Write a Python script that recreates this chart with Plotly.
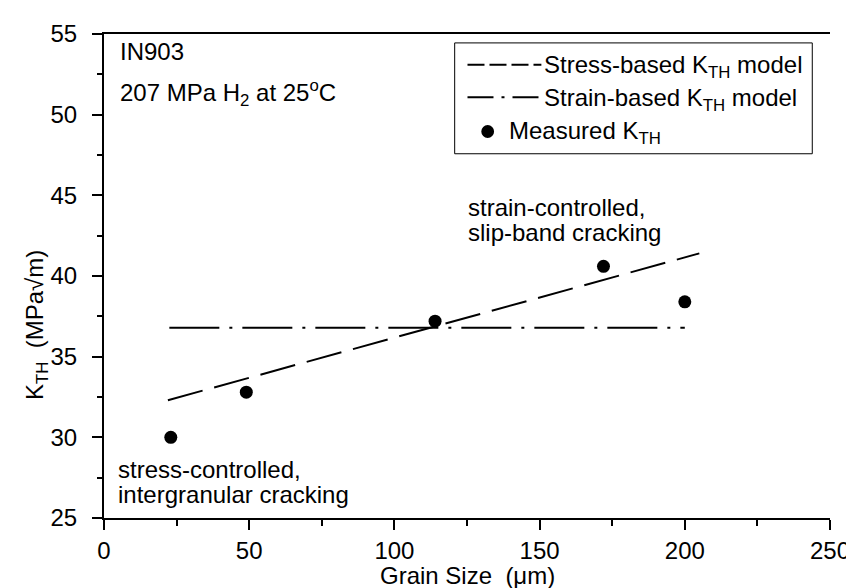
import plotly.graph_objects as go

# ---- data ----
grain_size = [23, 49, 114, 172, 200]
k_th_measured = [30.0, 32.8, 37.2, 40.6, 38.4]
stress_model_x = [22, 205]
stress_model_y = [32.3, 41.4]
strain_model_x = [22.5, 200]
strain_model_y = [36.8, 36.8]
x_ticks = [0, 50, 100, 150, 200, 250]
y_ticks = [25, 30, 35, 40, 45, 50, 55]

W, H = 854, 588
L, R, T, B = 96, 833, 21, 510
FONT = "Liberation Sans, Arial, sans-serif"


def px(x):
    return (x - L) / (R - L)


def py(y):
    return (B - y) / (B - T)


fig = go.Figure()
fig.add_trace(go.Scatter(x=stress_model_x, y=stress_model_y, mode="lines",
                         line=dict(color="black", width=2, dash="36px,12px"),
                         showlegend=False))
fig.add_trace(go.Scatter(x=strain_model_x, y=strain_model_y, mode="lines",
                         line=dict(color="black", width=2, dash="50px,10px,3px,10px"),
                         showlegend=False))
fig.add_trace(go.Scatter(x=grain_size, y=k_th_measured, mode="markers",
                         marker=dict(color="black", size=13),
                         showlegend=False))

ann = []


def txt(s, x, y, xanchor="left", size=24, angle=0):
    ann.append(dict(text=s, x=px(x), y=py(y), xref="paper", yref="paper",
                    xanchor=xanchor, yanchor="middle", showarrow=False,
                    textangle=angle, font=dict(family=FONT, size=size, color="black")))


txt("IN903", 110, 39)
txt("207 MPa H<sub>2</sub> at 25<sup>o</sup>C", 110, 81)
txt("stress-controlled,", 108, 461)
txt("intergranular cracking", 108, 486)
txt("strain-controlled,", 463, 196)
txt("slip-band cracking", 463, 222)
txt("Stress-based K<sub>TH</sub> model", 541, 54)
txt("Strain-based K<sub>TH</sub> model", 541, 87)
txt("Measured K<sub>TH</sub>", 505, 121)
txt("K<sub>TH</sub>  (MPa√m)", 28, 315, xanchor="center", angle=-90)
txt("Grain Size  (μm)", 465, 568, xanchor="center")

shapes = [
    dict(type="rect", xref="paper", yref="paper", x0=px(452), x1=px(815), y0=py(30), y1=py(142),
         line=dict(color="black", width=1), fillcolor="white", layer="below"),
    dict(type="line", xref="paper", yref="paper", x0=px(465), x1=px(540), y0=py(52), y1=py(52),
         line=dict(color="black", width=2, dash="17px,5px")),
    dict(type="line", xref="paper", yref="paper", x0=px(465), x1=px(540), y0=py(85), y1=py(85),
         line=dict(color="black", width=2, dash="26px,8px,3px,8px")),
    dict(type="circle", xref="paper", yref="paper", x0=px(479), x1=px(492), y0=py(113), y1=py(126),
         line=dict(color="black", width=0), fillcolor="black"),
]

fig.update_layout(
    width=W, height=H,
    margin=dict(l=L, r=W - R, t=T, b=H - B),
    plot_bgcolor="white", paper_bgcolor="white",
    font=dict(family=FONT, size=24, color="black"),
    annotations=ann, shapes=shapes,
    xaxis=dict(range=[0, 250], tickvals=x_ticks, showline=True, linecolor="black", linewidth=2,
               mirror=True, ticks="outside", ticklen=10, tickwidth=2, tickcolor="black",
               showgrid=False, zeroline=False, ticklabelstandoff=0,
               minor=dict(dtick=25, ticks="outside", ticklen=6, tickwidth=2, tickcolor="black",
                          showgrid=False),
               tickfont=dict(size=24)),
    yaxis=dict(range=[25, 55], tickvals=y_ticks, showline=True, linecolor="black", linewidth=2,
               mirror=False, ticks="outside", ticklen=10, tickwidth=2, tickcolor="black",
               showgrid=False, zeroline=False, ticklabelstandoff=10,
               minor=dict(dtick=2.5, ticks="outside", ticklen=5, tickwidth=2, tickcolor="black",
                          showgrid=False),
               tickfont=dict(size=24)),
)

fig.write_html("out.html")
